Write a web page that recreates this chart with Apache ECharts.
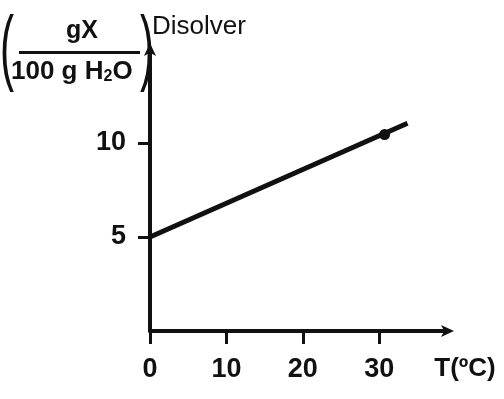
<!DOCTYPE html>
<html>
<head>
<meta charset="utf-8">
<script src="https://cdn.jsdelivr.net/npm/echarts@6/dist/echarts.min.js"></script>
<style>
html, body { margin: 0; padding: 0; background: #fff; }
#main { width: 504px; height: 399px; }
</style>
</head>
<body>
<div id="main"></div>
<script>
var tempX = [0, 33.7];
var solubY = [5, 11.05];
var markPoint = [30.7, 10.45];
var xTicks = [0, 10, 20, 30];
var yTicks = [5, 10];

var font = '"Liberation Sans", Arial, sans-serif';

var myChart = echarts.init(document.getElementById('main'));
var option = {
    animation: false,
    backgroundColor: '#fff',
    grid: {
        left: 150,
        right: 56,
        top: 49,
        bottom: 68
    },
    xAxis: {
        type: 'value',
        min: 0,
        max: 39,
        name: 'T(ºC)',
        nameLocation: 'end',
        nameGap: 17,
        nameTextStyle: {
            color: '#111',
            fontSize: 26,
            fontFamily: font,
            fontWeight: 'bold',
            align: 'center',
            verticalAlign: 'top',
            padding: [25, 0, 0, 0]
        },
        axisLine: {
            show: true,
            lineStyle: { color: '#111', width: 4 },
            symbol: ['none', 'arrow'],
            symbolSize: [9, 13],
            symbolOffset: [0, 6]
        },
        axisTick: {
            show: true,
            customValues: xTicks,
            length: 13,
            lineStyle: { color: '#111', width: 3 }
        },
        axisLabel: {
            customValues: xTicks,
            margin: 25,
            color: '#111',
            fontSize: 27,
            fontWeight: 'bold',
            fontFamily: font
        },
        splitLine: { show: false }
    },
    yAxis: {
        type: 'value',
        min: 0,
        max: 15,
        name: 'Disolver',
        nameLocation: 'end',
        nameGap: 9,
        nameTextStyle: {
            color: '#111',
            fontSize: 26,
            fontFamily: font,
            align: 'left',
            padding: [0, 0, 0, 2]
        },
        axisLine: {
            show: true,
            lineStyle: { color: '#111', width: 4 },
            symbol: ['none', 'arrow'],
            symbolSize: [9, 13],
            symbolOffset: [0, 6]
        },
        axisTick: {
            show: true,
            customValues: yTicks,
            length: 12,
            lineStyle: { color: '#111', width: 3 }
        },
        axisLabel: {
            customValues: yTicks,
            margin: 24,
            color: '#111',
            fontSize: 27,
            fontWeight: 'bold',
            fontFamily: font
        },
        splitLine: { show: false }
    },
    graphic: [{
        type: 'text',
        left: 66,
        top: 19,
        style: {
            text: 'gX',
            fill: '#111',
            font: 'bold 25px ' + font
        }
    }, {
        type: 'rect',
        shape: { x: 19, y: 51, width: 121, height: 3 },
        style: { fill: '#111' }
    }, {
        type: 'text',
        left: 11,
        top: 59,
        style: {
            text: '{a|100 g H}{s|2}{a|O}',
            rich: {
                a: { fill: '#111', fontSize: 26, fontWeight: 'bold', fontFamily: font },
                s: { fill: '#111', fontSize: 16, fontWeight: 'bold', fontFamily: font, padding: [10, 0, 0, 0] }
            }
        }
    }, {
        type: 'text',
        x: 0,
        y: 10,
        scaleX: 0.5,
        style: {
            text: '(',
            fill: '#111',
            font: '84px ' + font
        }
    }, {
        type: 'text',
        x: 140,
        y: 10,
        scaleX: 0.5,
        style: {
            text: ')',
            fill: '#111',
            font: '84px ' + font
        }
    }],
    series: [{
        type: 'line',
        data: tempX.map(function (t, i) { return [t, solubY[i]]; }),
        showSymbol: false,
        lineStyle: { color: '#111', width: 5 }
    }, {
        type: 'scatter',
        data: [markPoint],
        symbolSize: 11,
        itemStyle: { color: '#111', opacity: 1 }
    }]
};
myChart.setOption(option);
</script>
</body>
</html>
